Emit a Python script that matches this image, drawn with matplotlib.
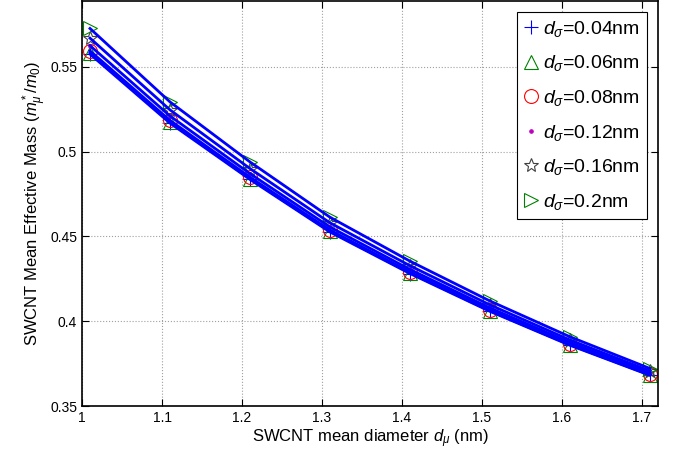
import numpy as np
import matplotlib
matplotlib.use("Agg")
import matplotlib.pyplot as plt

plt.rcParams['font.family'] = ['Liberation Sans', 'DejaVu Sans']
plt.rcParams['mathtext.fontset'] = 'custom'
plt.rcParams['mathtext.rm'] = 'Liberation Sans'
plt.rcParams['mathtext.it'] = 'Liberation Sans:italic'
plt.rcParams['mathtext.default'] = 'it'

# mean diameter (nm)
d_mu = [1.01, 1.11, 1.21, 1.31, 1.41, 1.51, 1.61, 1.71]

# effective mass for each d_sigma
m_004 = [0.5575, 0.5168, 0.4836, 0.4526, 0.4281, 0.4058, 0.3858, 0.3681]
m_006 = [0.5583, 0.5174, 0.4841, 0.4531, 0.4285, 0.4061, 0.3861, 0.3683]
m_008 = [0.5594, 0.5184, 0.4849, 0.4537, 0.4290, 0.4066, 0.3864, 0.3686]
m_012 = [0.5625, 0.5210, 0.4870, 0.4555, 0.4305, 0.4078, 0.3875, 0.3694]
m_016 = [0.5669, 0.5246, 0.4900, 0.4580, 0.4327, 0.4096, 0.3889, 0.3706]
m_020 = [0.5726, 0.5293, 0.4939, 0.4613, 0.4354, 0.4119, 0.3908, 0.3721]

series = [m_004, m_006, m_008, m_012, m_016, m_020]
labels = ['0.04', '0.06', '0.08', '0.12', '0.16', '0.2']
markers = ['+', '^', 'o', '.', '*', '>']
colors = ['#0000ff', '#008000', '#ff0000', '#bf00bf', '#404040', '#008000']

fig = plt.figure(figsize=(6.81, 4.59), dpi=100)
ax = fig.add_axes([82 / 681, 53 / 459, 576 / 681, 405 / 459])

for m, lab, mk, c in zip(series, labels, markers, colors):
    ms = 5 if mk == '.' else 10
    ax.plot(d_mu, m, linestyle='none', marker=mk, markersize=ms,
            markerfacecolor='none' if mk != '.' else c, markeredgecolor=c,
            markeredgewidth=0.8, label=r'$d_\sigma$=' + lab + 'nm')

for m in series:
    ax.plot(d_mu, m, color='#0000ff', linewidth=2)

ax.set_xlim(1, 1.72)
ax.set_ylim(0.35, 0.5888)
ax.set_xticks([1, 1.1, 1.2, 1.3, 1.4, 1.5, 1.6, 1.7])
ax.set_xticklabels(['1', '1.1', '1.2', '1.3', '1.4', '1.5', '1.6', '1.7'])
ax.set_yticks([0.35, 0.4, 0.45, 0.5, 0.55])
ax.set_yticklabels(['0.35', '0.4', '0.45', '0.5', '0.55'])
ax.tick_params(direction='in', top=True, right=True, labelsize=10, length=5, width=0.8)
ax.grid(True, linestyle=':', color='#a0a0a0', linewidth=0.8)
for s in ax.spines.values():
    s.set_linewidth(1.2)

ax.set_xlabel(r'SWCNT mean diameter $d_\mu$ (nm)', fontsize=12, labelpad=2)
ax.set_ylabel(r'SWCNT Mean Effective Mass ($m^*_\mu/m_0$)', fontsize=12, labelpad=1)

leg = ax.legend(loc='upper right', bbox_to_anchor=(1 - 11 / 576, 1 - 11 / 405),
                borderaxespad=0, fontsize=14, fancybox=False, framealpha=1,
                edgecolor='black', handlelength=0.7, handletextpad=0.3,
                labelspacing=0.75, borderpad=0.35)
leg.get_frame().set_linewidth(0.8)

fig.savefig('out.png', dpi=100)
